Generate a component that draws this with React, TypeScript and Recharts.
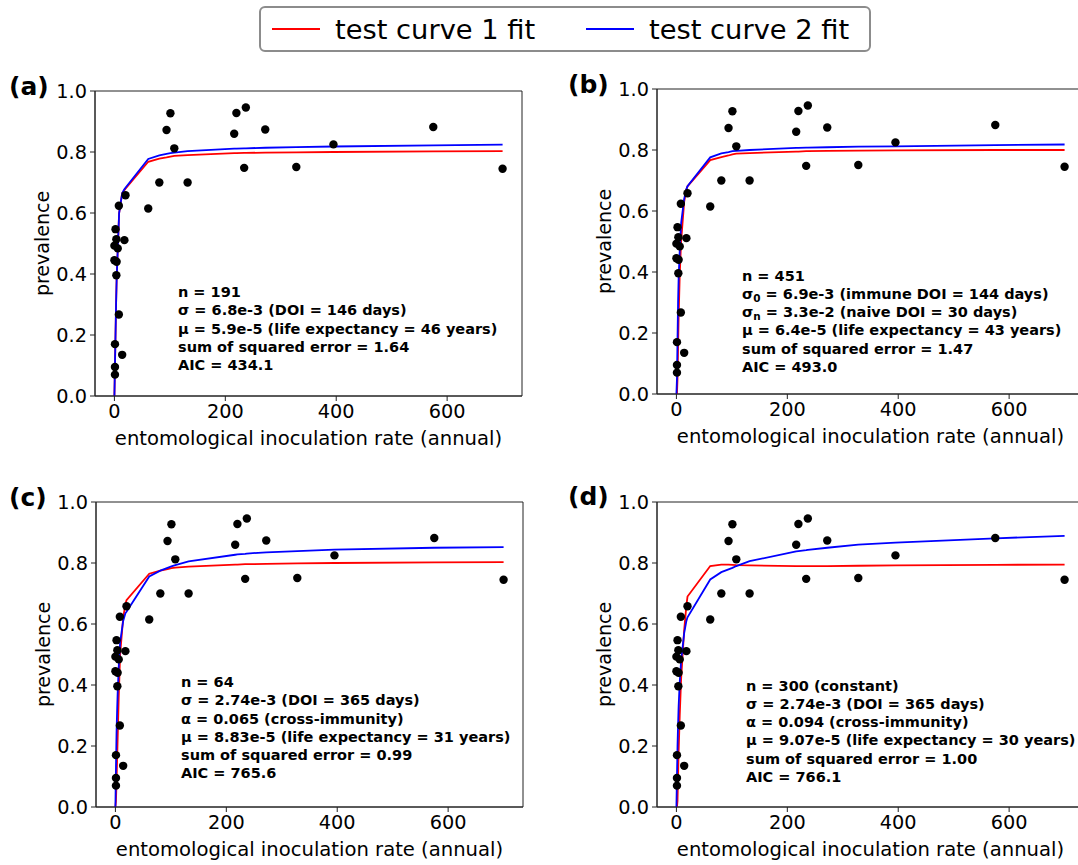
import React from "react";
import { ComposedChart, Scatter, Line, XAxis, YAxis, ReferenceArea } from "recharts";

// observed data (same in every panel)
const EIR = [101, 94, 108, 220, 237, 216, 272, 234, 328, 395, 575, 700, 81, 132, 61, 20, 8, 18, 2, 3.5, 0, 6, 0, 4, 3.5, 8, 1, 14, 1, 1];
const PREVALENCE = [0.927, 0.872, 0.812, 0.928, 0.946, 0.86, 0.874, 0.748, 0.751, 0.825, 0.882, 0.745, 0.7, 0.7, 0.615, 0.658, 0.624, 0.511, 0.547, 0.514, 0.493, 0.484, 0.445, 0.44, 0.396, 0.267, 0.17, 0.135, 0.095, 0.07];

// x values where the fitted curves were evaluated
const FIT_EIR = [0, 1, 2, 3, 4, 6, 8.5, 14, 18, 20, 61, 81, 94, 101, 108, 132, 216, 220, 234, 237, 272, 328, 395, 575, 700];

const FIT_A_1 = [0, 0.1, 0.2, 0.3, 0.38, 0.48, 0.6, 0.665, 0.675, 0.68, 0.768, 0.778, 0.782, 0.785, 0.787, 0.79, 0.796, 0.796, 0.797, 0.797, 0.798, 0.799, 0.8, 0.802, 0.803];
const FIT_A_2 = [0, 0.1, 0.2, 0.3, 0.38, 0.48, 0.6, 0.665, 0.678, 0.683, 0.777, 0.789, 0.794, 0.796, 0.798, 0.803, 0.811, 0.811, 0.812, 0.812, 0.814, 0.816, 0.818, 0.822, 0.824];

const FIT_B_1 = [0, 0, 0.05, 0.15, 0.25, 0.39, 0.5, 0.63, 0.67, 0.681, 0.767, 0.777, 0.782, 0.786, 0.788, 0.79, 0.795, 0.795, 0.796, 0.796, 0.797, 0.798, 0.799, 0.8, 0.8];
const FIT_B_2 = [0, 0.05, 0.18, 0.3, 0.38, 0.47, 0.56, 0.64, 0.672, 0.681, 0.776, 0.789, 0.793, 0.796, 0.797, 0.8, 0.807, 0.807, 0.808, 0.808, 0.809, 0.811, 0.812, 0.816, 0.818];

const FIT_C_1 = [0, 0.02, 0.08, 0.15, 0.22, 0.36, 0.5, 0.62, 0.665, 0.678, 0.765, 0.775, 0.78, 0.783, 0.785, 0.788, 0.795, 0.795, 0.796, 0.796, 0.797, 0.799, 0.8, 0.802, 0.803];
const FIT_C_2 = [0, 0.13, 0.24, 0.31, 0.37, 0.46, 0.54, 0.61, 0.635, 0.64, 0.756, 0.775, 0.784, 0.789, 0.793, 0.805, 0.827, 0.828, 0.83, 0.831, 0.835, 0.839, 0.844, 0.85, 0.852];

const FIT_D_1 = [0, 0, 0.02, 0.1, 0.18, 0.3, 0.42, 0.58, 0.66, 0.69, 0.79, 0.795, 0.795, 0.794, 0.793, 0.792, 0.79, 0.79, 0.79, 0.79, 0.79, 0.791, 0.792, 0.794, 0.795];
const FIT_D_2 = [0, 0.1, 0.2, 0.27, 0.33, 0.41, 0.48, 0.57, 0.61, 0.622, 0.746, 0.77, 0.779, 0.784, 0.79, 0.806, 0.838, 0.839, 0.842, 0.843, 0.85, 0.86, 0.867, 0.881, 0.889];

const SERIES_NAMES = ["test curve 1 fit", "test curve 2 fit"];
const SERIES_COLORS = ["#ff0000", "#0000ff"];

const X_TICKS = [0, 200, 400, 600];
const Y_TICKS = [0, 0.2, 0.4, 0.6, 0.8, 1.0];

const TEXT_A = ["n = 191", "σ = 6.8e-3 (DOI = 146 days)", "μ = 5.9e-5 (life expectancy = 46 years)", "sum of squared error = 1.64", "AIC = 434.1"];
const TEXT_B = ["n = 451", "σ_{0} = 6.9e-3 (immune DOI = 144 days)", "σ_{n} = 3.3e-2 (naive DOI = 30 days)", "μ = 6.4e-5 (life expectancy = 43 years)", "sum of squared error = 1.47", "AIC = 493.0"];
const TEXT_C = ["n = 64", "σ = 2.74e-3 (DOI = 365 days)", "α = 0.065 (cross-immunity)", "μ = 8.83e-5 (life expectancy = 31 years)", "sum of squared error = 0.99", "AIC = 765.6"];
const TEXT_D = ["n = 300 (constant)", "σ = 2.74e-3 (DOI = 365 days)", "α = 0.094 (cross-immunity)", "μ = 9.07e-5 (life expectancy = 30 years)", "sum of squared error = 1.00", "AIC = 766.1"];

const points = EIR.map((x, i) => ({ x, y: PREVALENCE[i] }));
const curve = (ys: number[]) => FIT_EIR.map((x, i) => ({ x, y: ys[i] }));

const panels = [
  { tag: "(a)", fits: [FIT_A_1, FIT_A_2], text: TEXT_A, left: 0, top: 60, tagX: 9, tagY: 72, textX: 178, textY: 283 },
  { tag: "(b)", fits: [FIT_B_1, FIT_B_2], text: TEXT_B, left: 562, top: 58, tagX: 568, tagY: 70, textX: 742, textY: 266.5 },
  { tag: "(c)", fits: [FIT_C_1, FIT_C_2], text: TEXT_C, left: 1, top: 471, tagX: 9, tagY: 483, textX: 181, textY: 673 },
  { tag: "(d)", fits: [FIT_D_1, FIT_D_2], text: TEXT_D, left: 562, top: 471, tagX: 568, tagY: 482, textX: 746, textY: 676.5 },
];

const FONT = '"DejaVu Sans", sans-serif';
const AXIS = "#222";

function renderLine(line: string, key: number) {
  const parts = line.split(/_\{(.*?)\}/);
  return (
    <div key={key}>
      {parts.map((p, i) =>
        i % 2 === 1 ? (
          <span key={i} style={{ fontSize: "0.72em", verticalAlign: "-0.3em", lineHeight: 0 }}>{p}</span>
        ) : (
          <span key={i}>{p}</span>
        )
      )}
    </div>
  );
}

function Dot(props: any) {
  if (props.cx == null) return null;
  return <circle cx={props.cx} cy={props.cy} r={4.2} fill="#000" />;
}

function Panel({ p }: { p: (typeof panels)[number] }) {
  return (
    <div style={{ position: "absolute", left: p.left, top: p.top }}>
      <ComposedChart width={540} height={391} margin={{ top: 31, right: 18, bottom: 0, left: 0 }}>
        <XAxis
          type="number"
          dataKey="x"
          domain={[-35, 735]}
          ticks={X_TICKS}
          allowDataOverflow
          height={55}
          stroke={AXIS}
          tickSize={5}
          tickMargin={3}
          tick={{ fill: "#000", fontSize: 19.3 }}
          label={(lp: any) => {
            const vb = lp.viewBox;
            return (
              <text x={vb.x + vb.width / 2} y={vb.y + 49} textAnchor="middle" fontSize={19.6} fill="#000">
                entomological inoculation rate (annual)
              </text>
            );
          }}
        />
        <YAxis
          type="number"
          dataKey="y"
          domain={[0, 1]}
          ticks={Y_TICKS}
          allowDataOverflow
          width={95}
          stroke={AXIS}
          tickSize={5}
          tickMargin={3}
          tick={{ fill: "#000", fontSize: 19.3 }}
          tickFormatter={(v: number) => v.toFixed(1)}
          label={(lp: any) => {
            const vb = lp.viewBox;
            const cx = vb.x + 42;
            const cy = vb.y + vb.height / 2;
            return (
              <text x={cx} y={cy} transform={`rotate(-90 ${cx} ${cy})`} textAnchor="middle" dominantBaseline="central" fontSize={19} fill="#000">
                prevalence
              </text>
            );
          }}
        />
        <ReferenceArea x1={-35} x2={735} y1={0} y2={1} fill="none" stroke={AXIS} strokeWidth={1} ifOverflow="visible" />
        <Scatter data={points} fill="#000" shape={Dot} isAnimationActive={false} />
        {p.fits.map((ys, i) => (
          <Line
            key={i}
            data={curve(ys)}
            dataKey="y"
            type="linear"
            stroke={SERIES_COLORS[i]}
            strokeWidth={1.8}
            dot={false}
            activeDot={false}
            isAnimationActive={false}
          />
        ))}
      </ComposedChart>
    </div>
  );
}

export default function App() {
  return (
    <div style={{ position: "absolute", left: 0, top: 0, width: 1078, height: 865, overflow: "hidden", background: "#fff", fontFamily: FONT }}>
      {/* shared legend */}
      <div style={{ position: "absolute", left: 259, top: 6, width: 612, height: 46, boxSizing: "border-box", border: "2px solid #8c8c8c", borderRadius: 6 }}>
        {SERIES_NAMES.map((name, i) => (
          <div key={name} style={{ position: "absolute", left: 11 + i * 314, top: 0, height: 42, display: "flex", alignItems: "center" }}>
            <div style={{ width: 48, height: 2, background: SERIES_COLORS[i], marginRight: 15 }} />
            <span style={{ fontSize: 27.3, color: "#000" }}>{name}</span>
          </div>
        ))}
      </div>

      {panels.map((p) => (
        <Panel key={p.tag} p={p} />
      ))}

      {panels.map((p) => (
        <div key={p.tag + "-tag"} style={{ position: "absolute", left: p.tagX, top: p.tagY, fontSize: 25, fontWeight: "bold", lineHeight: "30px" }}>
          {p.tag}
        </div>
      ))}

      {panels.map((p) => (
        <div key={p.tag + "-text"} style={{ position: "absolute", left: p.textX, top: p.textY, fontSize: 14.5, fontWeight: "bold", lineHeight: "18.3px", whiteSpace: "nowrap" }}>
          {p.text.map((line, i) => renderLine(line, i))}
        </div>
      ))}
    </div>
  );
}
